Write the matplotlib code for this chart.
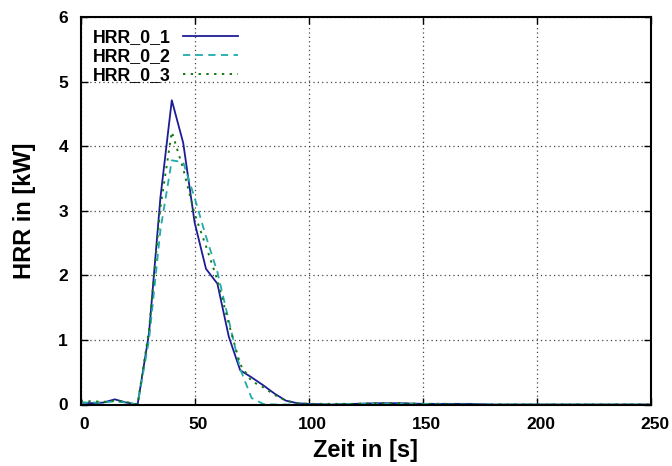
import matplotlib
matplotlib.use("Agg")
import matplotlib.pyplot as plt
import matplotlib.transforms as mtransforms

plt.rcParams['font.family'] = ['Liberation Sans', 'DejaVu Sans']

time_s = [0, 5, 10, 15, 20, 25, 30, 35, 40, 45, 50, 55, 60, 65, 70, 75, 80, 85, 90, 95,
          100, 110, 120, 130, 140, 150, 160, 170, 180, 190, 200, 210, 220, 230, 240, 250]

hrr_0_1 = [0.03, 0.02, 0.03, 0.08, 0.03, 0.0, 1.1, 3.2, 4.71, 4.05, 2.82, 2.1, 1.87, 1.05, 0.53,
           0.42, 0.3, 0.17, 0.06, 0.02, 0.01, 0.0, 0.01, 0.02, 0.02, 0.01, 0.01, 0.01, 0.0, 0.0,
           0.0, 0.0, 0.0, 0.0, 0.0, 0.0]
hrr_0_2 = [0.03, 0.03, 0.03, 0.05, 0.03, 0.0, 1.0, 2.7, 3.78, 3.75, 3.2, 2.6, 2.05, 1.3, 0.55,
           0.1, 0.01, 0.0, 0.0, 0.0, 0.0, 0.0, 0.01, 0.01, 0.01, 0.01, 0.0, 0.0, 0.0, 0.0,
           0.0, 0.0, 0.0, 0.0, 0.0, 0.0]
hrr_0_3 = [0.05, 0.05, 0.04, 0.06, 0.04, 0.0, 1.15, 3.05, 4.22, 3.65, 2.95, 2.45, 1.93, 1.25, 0.62,
           0.36, 0.27, 0.15, 0.06, 0.02, 0.01, 0.01, 0.01, 0.02, 0.02, 0.01, 0.01, 0.0, 0.0, 0.0,
           0.0, 0.0, 0.0, 0.0, 0.0, 0.0]

series_labels = ['HRR_0_1', 'HRR_0_2', 'HRR_0_3']
x_ticks = [0, 50, 100, 150, 200, 250]
y_ticks = [0, 1, 2, 3, 4, 5, 6]

fig = plt.figure(figsize=(6.72, 4.66), dpi=100)
ax = fig.add_axes([80.6 / 672, 1 - 404.5 / 466, (650.6 - 80.6) / 672, (404.5 - 16.9) / 466])

ax.plot(time_s, hrr_0_1, color='#1c1c96', lw=1.3, ls='-', label=series_labels[0])
ax.plot(time_s, hrr_0_2, color='#20aaaa', lw=1.3, ls=(0, (4, 3)), label=series_labels[1])
ax.plot(time_s, hrr_0_3, color='#117a11', lw=1.4, ls=(0, (1.2, 2.8)), label=series_labels[2])

ax.set_xlim(0, 250)
ax.set_ylim(0, 6)
ax.set_xticks(x_ticks)
ax.set_yticks(y_ticks)
ax.tick_params(direction='in', top=True, right=True, length=5, width=1, labelsize=12.5)
ax.tick_params(axis='x', pad=9)
ax.tick_params(axis='y', pad=9)
shift = mtransforms.ScaledTranslation(4 / 100, 0, fig.dpi_scale_trans)
for lab in ax.get_xticklabels():
    lab.set_fontweight('bold')
    lab.set_transform(lab.get_transform() + shift)
for lab in ax.get_yticklabels():
    lab.set_fontweight('bold')

ax.grid(True, color='#444444', ls=(0, (1, 2.5)), lw=0.9)
for sp in ax.spines.values():
    sp.set_linewidth(1.5)

ax.set_xlabel('Zeit in [s]', fontsize=17, fontweight='bold', labelpad=5)
ax.set_ylabel('HRR in [kW]', fontsize=17, fontweight='bold', labelpad=16)

leg = ax.legend(loc='upper left', markerfirst=False, frameon=False,
                prop={'weight': 'bold', 'size': 12.8}, handlelength=3.1, labelspacing=0.1,
                borderaxespad=0.3, handletextpad=0.7)

fig.savefig('out.png', dpi=100)
